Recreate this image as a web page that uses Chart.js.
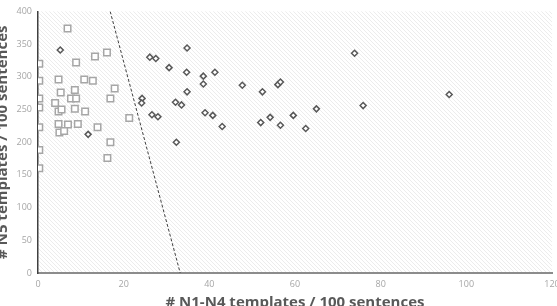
<!DOCTYPE html>
<html>
<head>
<meta charset="utf-8">
<script src="https://cdn.jsdelivr.net/npm/chart.js@4.4.1/dist/chart.umd.min.js"></script>
<style>
html, body { margin: 0; padding: 0; background: #fff; overflow: hidden; width: 557px; height: 306px; }
#wrap { position: absolute; left: -6px; top: 0; width: 575px; height: 312px; }
</style>
</head>
<body>
<div id="wrap"><canvas id="grafico"></canvas></div>
<script>
// squares: sentences at N5 vs N1-N4 (left group)
const quadX = [6.9, 0.3, 0.3, 0.3, 0.3, 0.3, 0.3, 0.3, 8.9, 13.3, 16.1, 4.8, 10.8, 12.8, 17.9, 5.3, 8.6,
    7.7, 8.9, 16.9, 4.0, 4.8, 5.5, 8.6, 11.0, 21.3, 4.8, 7.0, 9.3, 13.9, 5.0, 6.1, 16.9, 16.2];
const quadY = [374, 320, 294, 267, 253, 223, 188, 160, 322, 331, 337, 296, 296, 294, 282, 276, 280,
    267, 267, 267, 260, 247, 250, 251, 247, 237, 228, 227, 228, 223, 215, 217, 200, 176];

// diamonds (right group)
const losX = [5.2, 11.7, 26.1, 27.5, 30.6, 34.8, 34.7, 34.8, 24.3, 24.2, 26.6, 28.0, 32.1, 33.5, 32.3,
    38.6, 38.6, 41.3, 39.0, 40.8, 43.0, 47.7, 52.4, 52.0, 54.2, 56.6, 56.0, 56.6, 59.6, 62.5, 65.0,
    73.9, 75.9, 96.0];
const losY = [341, 212, 330, 328, 314, 344, 307, 277, 267, 260, 242, 239, 261, 257, 200,
    301, 289, 307, 245, 241, 224, 287, 277, 230, 238, 226, 288, 292, 241, 221, 251,
    336, 256, 273];

// dashed separator
const linhaX = [16.85, 33.2];
const linhaY = [400, 0];

const tituloX = '# N1-N4 templates / 100 sentences';
const tituloY = '# N5 templates / 100 sentences';

function pontos(xs, ys) {
    return xs.map((x, i) => ({ x: x, y: ys[i] }));
}

// hatched plot background
function criarHachura() {
    const c = document.createElement('canvas');
    c.width = 4; c.height = 4;
    const g = c.getContext('2d');
    g.fillStyle = '#ffffff';
    g.fillRect(0, 0, 4, 4);
    g.fillStyle = '#ececec';
    for (let i = 0; i < 4; i++) g.fillRect(i, i, 1, 1);
    return g.createPattern(c, 'repeat');
}

const fundo = {
    id: 'fundo',
    beforeDraw(chart) {
        const { ctx, chartArea: a } = chart;
        ctx.save();
        ctx.fillStyle = criarHachura();
        ctx.fillRect(a.left, a.top, a.right - a.left, a.bottom - a.top);
        ctx.restore();
    }
};

const fonte = "'Open Sans', 'Noto Sans', sans-serif";

new Chart(document.getElementById('grafico'), {
    type: 'scatter',
    data: {
        datasets: [
            {
                label: 'linha',
                type: 'line',
                data: pontos(linhaX, linhaY),
                borderColor: '#404040',
                borderWidth: 1,
                borderDash: [3, 2],
                pointRadius: 0,
                fill: false
            },
            {
                label: 'N5',
                data: pontos(quadX, quadY),
                pointStyle: 'rect',
                pointRadius: 4.6,
                borderColor: '#a6a6a6',
                backgroundColor: '#ffffff',
                borderWidth: 1.5
            },
            {
                label: 'N1-N4',
                data: pontos(losX, losY),
                pointStyle: 'rectRot',
                pointRadius: 3,
                borderColor: '#595959',
                backgroundColor: '#ffffff',
                borderWidth: 1.5
            }
        ]
    },
    options: {
        responsive: true,
        maintainAspectRatio: false,
        animation: false,
        layout: { padding: { top: 5, right: 17, bottom: 0, left: 0 } },
        plugins: { legend: { display: false }, tooltip: { enabled: false } },
        scales: {
            x: {
                type: 'linear',
                min: 0, max: 120,
                ticks: { stepSize: 20, color: '#a6a6a6', font: { family: fonte, size: 9 }, padding: 6 },
                grid: { color: 'transparent', drawTicks: false },
                border: { color: '#8c8c8c', width: 2 },
                title: { display: true, text: tituloX, color: '#595959', font: { family: fonte, size: 15, weight: 'bold' }, padding: { top: 2, bottom: 0 } },
                afterFit(s) { s.height = 39; }
            },
            y: {
                min: 0, max: 400,
                ticks: { stepSize: 50, color: '#a6a6a6', font: { family: fonte, size: 9 }, padding: 6 },
                grid: { color: 'transparent', drawTicks: false },
                border: { color: '#404040', width: 1.5 },
                title: { display: true, text: tituloY, color: '#595959', font: { family: fonte, size: 15, weight: 'bold' }, padding: { top: 0, bottom: 0 } },
                afterFit(s) { s.width = 44; }
            }
        }
    },
    plugins: [fundo]
});
</script>
</body>
</html>
